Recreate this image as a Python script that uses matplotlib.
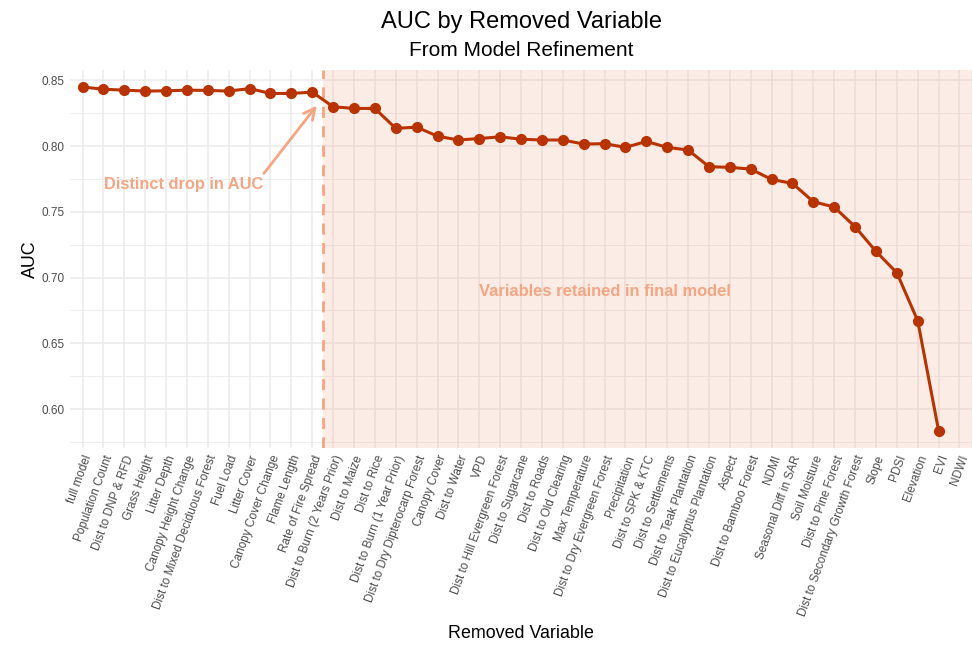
import matplotlib.pyplot as plt
import numpy as np

plt.rcParams['font.family'] = ['Liberation Sans', 'DejaVu Sans']

# removed variables in order of removal
variables = [
    'full model', 'Population Count', 'Dist to DNP & RFD', 'Grass Height',
    'Litter Depth', 'Canopy Height Change', 'Dist to Mixed Deciduous Forest',
    'Fuel Load', 'Litter Cover', 'Canopy Cover Change', 'Flame Length',
    'Rate of Fire Spread', 'Dist to Burn (2 Years Prior)', 'Dist to Maize',
    'Dist to Rice', 'Dist to Burn (1 Year Prior)', 'Dist to Dry Dipterocarp Forest',
    'Canopy Cover', 'Dist to Water', 'VPD', 'Dist to Hill Evergreen Forest',
    'Dist to Sugarcane', 'Dist to Roads', 'Dist to Old Clearing',
    'Max Temperature', 'Dist to Dry Evergreen Forest', 'Precipitation',
    'Dist to SPK & KTC', 'Dist to Settlements', 'Dist to Teak Plantation',
    'Dist to Eucalyptus Plantation', 'Aspect', 'Dist to Bamboo Forest', 'NDMI',
    'Seasonal Diff in SAR', 'Soil Moisture', 'Dist to Pine Forest',
    'Dist to Secondary Growth Forest', 'Slope', 'PDSI', 'Elevation', 'EVI', 'NDWI',
]

auc = [
    0.8449, 0.8432, 0.8425, 0.8418, 0.8420, 0.8425, 0.8423, 0.8418, 0.8437,
    0.8400, 0.8400, 0.8410, 0.8299, 0.8286, 0.8286, 0.8134, 0.8144, 0.8075,
    0.8046, 0.8057, 0.8070, 0.8052, 0.8046, 0.8046, 0.8015, 0.8018, 0.7990,
    0.8035, 0.7990, 0.7970, 0.7843, 0.7838, 0.7825, 0.7746, 0.7716, 0.7577,
    0.7536, 0.7386, 0.7199, 0.7036, 0.6671, 0.5835, np.nan,
]

cutoff = 12.5  # between Rate of Fire Spread and Dist to Burn (2 Years Prior)

line_col = '#B83300'
accent = '#F4A582'


def plot_auc():
    fig = plt.figure(figsize=(9.73, 6.46), dpi=100)
    ax = fig.add_axes([0.072, 0.3065, 0.927, 0.5855])

    x = np.arange(1, len(variables) + 1)

    ax.axvspan(cutoff, len(variables) + 1, color='#EFA080', alpha=0.2, lw=0, zorder=1)
    ax.axvline(cutoff, color=accent, lw=2, ls=(0, (4, 3)), zorder=2)

    ax.plot(x, auc, color=line_col, lw=2.2, marker='o', markersize=7, zorder=3)

    ax.text(5.85, 0.7706, 'Distinct drop in AUC', color=accent, fontsize=11.8,
            fontweight='bold', ha='center', va='center')
    ax.annotate('', xy=(12.3, 0.8324), xytext=(9.6, 0.7775),
                arrowprops=dict(arrowstyle='->', color=accent, lw=2,
                                mutation_scale=20))
    ax.text(26, 0.6897, 'Variables retained in final model', color=accent,
            fontsize=11.9, fontweight='bold', ha='center', va='center')

    ax.set_xlim(0.4, len(variables) + 0.6)
    ax.set_ylim(0.5704, 0.8580)
    ax.set_xticks(x)
    ax.set_xticklabels(variables, rotation=70, ha='right', rotation_mode='anchor',
                       fontsize=8.5, color='#4D4D4D')
    ax.set_yticks([0.60, 0.65, 0.70, 0.75, 0.80, 0.85])
    ax.set_yticks(np.arange(0.575, 0.86, 0.05), minor=True)
    ax.tick_params(axis='y', labelsize=8.5, labelcolor='#4D4D4D', length=0, pad=4)
    ax.tick_params(axis='y', which='minor', length=0)
    ax.tick_params(axis='x', length=0, pad=4)

    ax.set_axisbelow(True)
    ax.grid(True, which='major', color='#EBEBEB', lw=1.1)
    ax.grid(True, which='minor', axis='y', color='#EBEBEB', lw=0.6)
    for s in ax.spines.values():
        s.set_visible(False)

    ax.set_ylabel('AUC', fontsize=12.9, labelpad=2)
    ax.set_xlabel('Removed Variable', fontsize=12.9, labelpad=5)

    fig.text(0.5355, 0.966, 'AUC by Removed Variable', fontsize=17,
             ha='center', va='center')
    fig.text(0.5355, 0.922, 'From Model Refinement', fontsize=15,
             ha='center', va='center')

    fig.savefig('out.png', dpi=100, facecolor='white')


if __name__ == '__main__':
    plot_auc()
